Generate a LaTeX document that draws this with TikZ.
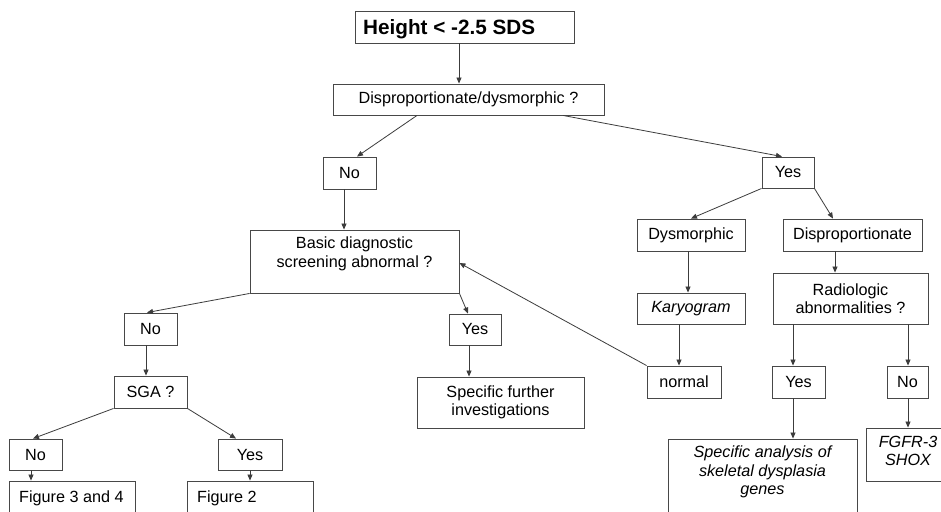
\documentclass[tikz,border=0pt]{standalone}
\usepackage{fontspec}
\setmainfont{Liberation Sans}
\usetikzlibrary{arrows.meta}
\definecolor{boxcol}{RGB}{72,72,72}
\definecolor{linecol}{RGB}{60,60,60}
\newcommand\fs{\fontsize{16.2}{18.5}\selectfont}
\tikzset{
  box/.style={draw=boxcol, line width=0.9pt, inner sep=0pt, align=center, font=\fs},
  txt/.style={inner sep=0pt, align=center, font=\fs},
  arr/.style={draw=linecol, line width=0.8pt, -{Triangle[length=6pt,width=5pt]}},
}
% \mybox{name}{x1}{y1}{x2}{y2}{text}
\newcommand\mybox[6]{%
  \node[box, minimum width={(#4-#2)*1pt}, minimum height={(#5-#3)*1pt}]
    (#1) at ({(#2+#4)/2},{(#3+#5)/2}) {#6};}
\begin{document}
\begin{tikzpicture}[x=1pt,y=-1pt]
\useasboundingbox (0,0) rectangle (941,511);
\clip (0,0) rectangle (941,511);
\fill[white] (0,0) rectangle (941,511);

% boxes
\mybox{height}{355}{11}{574}{43}{}
\node[anchor=base west, inner sep=0pt, font=\bfseries\fontsize{20.7}{24}\selectfont] (htext) at (363,35) {Height < -2.5 SDS};
\mybox{disp}{333}{84}{604}{115}{Disproportionate/dysmorphic ?}
\mybox{no1}{323}{157}{376}{189}{No}
\mybox{yes1}{762}{157}{814}{188}{Yes}
\mybox{basic}{250}{230}{459}{293}{}
\node[txt] (basictext) at (354.5,254) {Basic diagnostic\\screening abnormal ?};
\mybox{no2}{124}{313}{177}{345}{No}
\mybox{yes2}{449}{314}{501}{345}{Yes}
\mybox{sga}{114}{376}{187}{408}{SGA ?}
\mybox{spec1}{417}{377}{584}{428}{Specific further\\investigations}
\mybox{no3}{9}{439}{62}{470}{No}
\mybox{yes3}{218}{439}{282}{470}{Yes}
\mybox{fig34}{9}{481}{135}{540}{}
\node[anchor=base west, txt] (fig34text) at (19,502) {Figure 3 and 4};
\mybox{fig2}{187}{481}{313}{540}{}
\node[anchor=base west, txt] (fig2text) at (197,502) {Figure 2};
\mybox{dysm}{637}{219}{745}{251}{Dysmorphic}
\mybox{dispro}{783}{219}{922}{251}{Disproportionate}
\mybox{kary}{637}{293}{745}{324}{\itshape Karyogram}
\mybox{radio}{773}{273}{928}{324}{Radiologic\\abnormalities ?}
\mybox{normal}{647}{366}{721}{398}{normal}
\mybox{yes4}{772}{366}{825}{398}{Yes}
\mybox{no4}{887}{366}{928}{398}{No}
\mybox{spec2}{668}{439}{857}{540}{}
\node[txt, font=\fs\itshape] (spec2text) at (762.5,472) {Specific analysis of\\skeletal dysplasia\\genes};
\mybox{fgfr}{866}{428}{950}{481}{}
\node[txt, font=\fs\itshape] (fgfrtext) at (908,451) {FGFR-3\\SHOX};

% connectors
\draw[arr] (459,0 |- height.south) -- (459,0 |- disp.north);
\draw[arr] (417,0 |- disp.south) -- (357,0 |- no1.north);
\draw[arr] (563,0 |- disp.south) -- (782,0 |- yes1.north);
\draw[arr] (344,0 |- no1.south) -- (344,0 |- basic.north);
\draw[arr] (yes1.south west) -- (691,0 |- dysm.north);
\draw[arr] (yes1.south east) -- (833,0 |- dispro.north);
\draw[arr] (basic.south west) -- (147,0 |- no2.north);
\draw[arr] (basic.south east) -- (468,0 |- yes2.north);
\draw[arr] (normal.north west) -- ([yshift=-1.5pt]basic.east);
\draw[arr] (146,0 |- no2.south) -- (146,0 |- sga.north);
\draw[arr] (469,0 |- yes2.south) -- (469,0 |- spec1.north);
\draw[arr] (sga.south west) -- (33,0 |- no3.north);
\draw[arr] (sga.south east) -- (236,0 |- yes3.north);
\draw[arr] (31,0 |- no3.south) -- (31,0 |- fig34.north);
\draw[arr] (250,0 |- yes3.south) -- (250,0 |- fig2.north);
\draw[arr] (688,0 |- dysm.south) -- (688,0 |- kary.north);
\draw[arr] (679,0 |- kary.south) -- (679,0 |- normal.north);
\draw[arr] (835,0 |- dispro.south) -- (835,0 |- radio.north);
\draw[arr] (793,0 |- radio.south) -- (793,0 |- yes4.north);
\draw[arr] (908,0 |- radio.south) -- (908,0 |- no4.north);
\draw[arr] (793,0 |- yes4.south) -- (793,0 |- spec2.north);
\draw[arr] (908,0 |- no4.south) -- (908,0 |- fgfr.north);
\end{tikzpicture}
\end{document}
